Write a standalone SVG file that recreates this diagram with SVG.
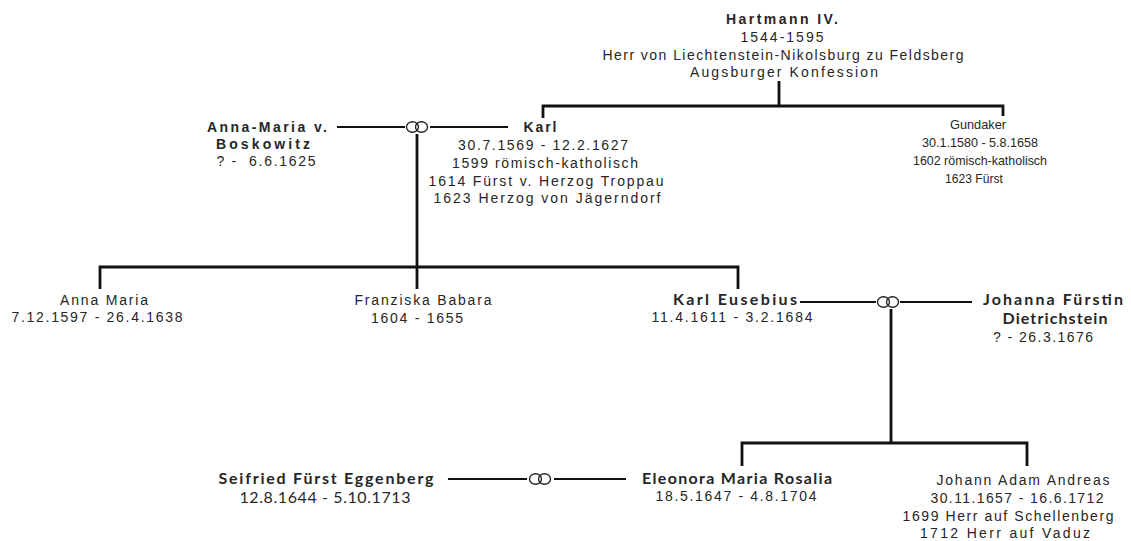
<svg xmlns="http://www.w3.org/2000/svg" xmlns:xlink="http://www.w3.org/1999/xlink" width="1131" height="541" viewBox="0 0 1131 541">
<style>
text{fill:#262626;text-anchor:middle}
.t{font-family:"Liberation Sans",Arial,sans-serif;font-size:14px}
.s{font-family:"Liberation Sans",Arial,sans-serif;font-size:13.5px}
.b{font-family:"Liberation Sans",Arial,sans-serif;font-size:14px;font-weight:bold}
.c{font-family:Lato,"Liberation Sans",sans-serif;font-size:16px;font-weight:bold}
.cn{font-family:Lato,"Liberation Sans",sans-serif;font-size:16px}
.tree{stroke:#111;stroke-width:2.8;fill:none}
.m{stroke:#111;stroke-width:2;fill:none}
.ring{stroke:#222;stroke-width:1.4;fill:none}
</style>
<defs>
<g id="rings"><ellipse class="ring" cx="-4.5" cy="0" rx="6" ry="5.2"/><ellipse class="ring" cx="4.5" cy="0" rx="6" ry="5.2"/></g>
</defs>
<rect width="1131" height="541" fill="#fff"/>
<g id="connectors">
<path class="tree" d="M779 81V106M543 118V106H1003V116"/>
<path class="m" d="M337 127H405M430 127H508"/>
<use xlink:href="#rings" x="417" y="127"/>
<path class="tree" d="M417 134V267M100 289V267H738V289M417 267V289"/>
<path class="m" d="M800 302H876M900 302H972"/>
<use xlink:href="#rings" x="888" y="302"/>
<path class="tree" d="M891 309V443M742 466V443H1027V466"/>
<path class="m" d="M448 479H527M554 479H626"/>
<use xlink:href="#rings" x="540" y="479"/>
</g>
<g id="hartmann">
<text class="b" x="782" y="24" textLength="112">Hartmann IV.</text>
<text class="t" x="782" y="42" textLength="83">1544-1595</text>
<text class="t" x="783" y="60" textLength="361">Herr von Liechtenstein-Nikolsburg zu Feldsberg</text>
<text class="t" x="784" y="77" textLength="188">Augsburger Konfession</text>
</g>
<g id="annamaria-boskowitz">
<text class="b" x="267" y="132" textLength="120">Anna-Maria v.</text>
<text class="b" x="263" y="149" textLength="94">Boskowitz</text>
<text class="t" x="266" y="166" textLength="99" xml:space="preserve">? -  6.6.1625</text>
</g>
<g id="karl">
<text class="b" x="540" y="132" textLength="33">Karl</text>
<text class="t" x="543" y="150" textLength="170">30.7.1569 - 12.2.1627</text>
<text class="t" x="545" y="168" textLength="186">1599 römisch-katholisch</text>
<text class="t" x="546" y="186" textLength="235">1614 Fürst v. Herzog Troppau</text>
<text class="t" x="547" y="203" textLength="227">1623 Herzog von Jägerndorf</text>
</g>
<g id="gundaker">
<text class="s" x="978" y="129" textLength="56" lengthAdjust="spacingAndGlyphs">Gundaker</text>
<text class="s" x="980" y="147" textLength="116" lengthAdjust="spacingAndGlyphs">30.1.1580 - 5.8.1658</text>
<text class="s" x="980" y="165" textLength="134" lengthAdjust="spacingAndGlyphs">1602 römisch-katholisch</text>
<text class="s" x="974" y="183" textLength="58" lengthAdjust="spacingAndGlyphs">1623 Fürst</text>
</g>
<g id="anna-maria">
<text class="t" x="104" y="305" textLength="88">Anna Maria</text>
<text class="t" x="97" y="322" textLength="171">7.12.1597 - 26.4.1638</text>
</g>
<g id="franziska">
<text class="t" x="423" y="305" textLength="137">Franziska Babara</text>
<text class="t" x="417" y="323" textLength="92">1604 - 1655</text>
</g>
<g id="karl-eusebius">
<text class="c" x="735" y="305" textLength="124">Karl Eusebius</text>
<text class="t" x="732" y="322" textLength="161">11.4.1611 - 3.2.1684</text>
</g>
<g id="johanna">
<text class="c" x="1053" y="305" textLength="140">Johanna Fürstin</text>
<text class="c" x="1055" y="324" textLength="105">Dietrichstein</text>
<text class="t" x="1043" y="342" textLength="100">? - 26.3.1676</text>
</g>
<g id="seifried">
<text class="c" x="326" y="484" textLength="215">Seifried Fürst Eggenberg</text>
<text class="cn" x="325" y="503" textLength="171">12.8.1644 - 5.10.1713</text>
</g>
<g id="eleonora">
<text class="c" x="737" y="484" textLength="190">Eleonora Maria Rosalia</text>
<text class="t" x="736" y="501" textLength="161">18.5.1647 - 4.8.1704</text>
</g>
<g id="johann-adam">
<text class="t" x="1023" y="485" textLength="173">Johann Adam Andreas</text>
<text class="t" x="1017" y="503" textLength="173">30.11.1657 - 16.6.1712</text>
<text class="t" x="1008" y="521" textLength="211">1699 Herr auf Schellenberg</text>
<text class="t" x="1005" y="538" textLength="170">1712 Herr auf Vaduz</text>
</g>
</svg>
